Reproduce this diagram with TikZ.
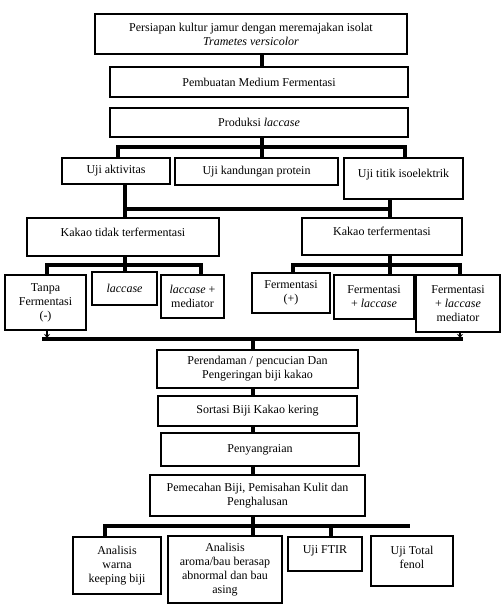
\documentclass[tikz,border=0pt]{standalone}
\usepackage{fontspec}
\setmainfont{Liberation Serif}
\usetikzlibrary{arrows.meta}

\tikzset{
	box/.style={draw, line width=1.2pt, align=center, inner sep=0pt, font=\fontsize{12}{14}\selectfont},
	conn/.style={line width=3.5pt},
}

\begin{document}
\begin{tikzpicture}[x=1pt, y=-1pt]
			\useasboundingbox (0,0) rectangle (502,606);
			
			\node[box, minimum width=312pt, minimum height=40pt] (b1) at (251,34) {Persiapan kultur jamur dengan meremajakan isolat\\\textit{Trametes versicolor}};
			\node[box, minimum width=298pt, minimum height=30pt] (b2) at (259,82) {Pembuatan Medium Fermentasi};
			\node[box, minimum width=298pt, minimum height=29pt] (b3) at (259,122.5) {Produksi \textit{laccase}};
			
			\node[box, minimum width=108pt, minimum height=26pt] (u1) at (116,171) {Uji aktivitas};
			\node[box, minimum width=163pt, minimum height=27pt] (u2) at (256.5,171.5) {Uji kandungan protein};
			\node[box, minimum width=119pt, minimum height=41pt, text depth=11pt] (u3) at (403.5,178.5) {Uji titik isoelektrik};
			
			\node[box, minimum width=192pt, minimum height=38pt, text depth=10pt] (k1) at (123,237) {Kakao tidak terfermentasi};
			\node[box, minimum width=160pt, minimum height=37pt, text depth=11pt] (k2) at (382,236.5) {Kakao terfermentasi};
			
			\node[box, minimum width=81pt, minimum height=55pt] (t1) at (45.5,302.5) {Tanpa\\Fermentasi\\(-)};
			\node[box, minimum width=65pt, minimum height=33pt] (t2) at (124.5,288.5) {\textit{laccase}};
			\node[box, minimum width=63pt, minimum height=43pt] (t3) at (192.5,296.5) {\textit{laccase} +\\mediator};
			\node[box, minimum width=78pt, minimum height=40pt] (f1) at (291,293) {Fermentasi\\(+)};
			\node[box, minimum width=80pt, minimum height=44pt] (f2) at (374,297) {Fermentasi\\+ \textit{laccase}};
			\node[box, minimum width=84pt, minimum height=57pt] (f3) at (458,303.5) {Fermentasi\\+ \textit{laccase}\\mediator};
			
			\node[box, minimum width=201pt, minimum height=38pt] (p1) at (257.5,369) {Perendaman / pencucian Dan\\Pengeringan biji kakao};
			\node[box, minimum width=199pt, minimum height=30pt] (p2) at (257.5,411) {Sortasi Biji Kakao kering};
			\node[box, minimum width=198pt, minimum height=33pt] (p3) at (260,449.5) {Penyangraian};
			\node[box, minimum width=215pt, minimum height=41pt] (p4) at (257.5,495.5) {Pemecahan Biji, Pemisahan Kulit dan\\Penghalusan};
			
			\node[box, minimum width=88pt, minimum height=57pt] (a1) at (117,565.5) {Analisis\\warna\\keeping biji};
			\node[box, minimum width=114pt, minimum height=67pt] (a2) at (225,569.5) {Analisis\\aroma/bau berasap\\abnormal dan bau\\asing};
			\node[box, minimum width=74pt, minimum height=34pt, text depth=8pt] (a3) at (325,554) {Uji FTIR};
			\node[box, minimum width=82pt, minimum height=50pt, text depth=7pt] (a4) at (412,561) {Uji Total\\fenol};
			
			\coordinate (spine) at (262,0);
			\coordinate (bar1l) at (118,147);
			\coordinate (bar1r) at (405,147);
			\coordinate (bar2l) at (125,209);
			\coordinate (bar2r) at (390,209);
			\coordinate (bar3l) at (47,265);
			\coordinate (bar3m) at (201,265);
			\coordinate (bar3n) at (293,265);
			\coordinate (bar3r) at (460,265);
			\coordinate (bar4l) at (47,339);
			\coordinate (bar4r) at (460,339);
			\coordinate (spine2) at (253,0);
			\coordinate (bar5l) at (105,526);
			\coordinate (bar5r) at (410,526);
			\coordinate (ftir) at (331,0);
			
			\draw[conn] (b1.south -| spine) -- (b2.north -| spine);
			\draw[conn] (b3.south -| spine) -- (spine |- bar1l);
			\draw[conn] (u1.north -| bar1l) -- (bar1l) -- (bar1r) -- (u3.north -| bar1r);
			\draw[conn] (spine |- bar1l) -- (u2.north -| spine);
			
			\draw[conn] (u1.south -| bar2l) -- (k1.north -| bar2l);
			\draw[conn] (u3.south -| bar2r) -- (k2.north -| bar2r);
			\draw[conn] (bar2l) -- (bar2r);
			
			\draw[conn] (k1.south -| bar2l) -- (t2.north -| bar2l);
			\draw[conn] (t1.north -| bar3l) -- (bar3l) -- (bar3m) -- (t3.north -| bar3m);
			\draw[conn] (k2.south -| bar2r) -- (f2.north -| bar2r);
			\draw[conn] (f1.north -| bar3n) -- (bar3n) -- (bar3r) -- (f3.north -| bar3r);
			
			\draw[line width=2pt, -{Stealth[length=4pt, width=6pt]}] (t1.south -| bar4l) -- ([yshift=1pt]bar4l);
			\draw[line width=2pt, -{Stealth[length=4pt, width=6pt]}] (f3.south -| bar4r) -- ([yshift=1pt]bar4r);
			\draw[conn] ([xshift=-5pt]bar4l) -- ([xshift=3pt]bar4r);
			\draw[conn] (spine2 |- bar4l) -- (p1.north -| spine2);
			
			\draw[conn] (p1.south -| spine2) -- (p2.north -| spine2);
			\draw[conn] (p2.south -| spine2) -- (p3.north -| spine2);
			\draw[conn] (p3.south -| spine2) -- (p4.north -| spine2);
			\draw[conn] (p4.south -| spine2) -- (a2.north -| spine2);
			\draw[conn] (a1.north -| bar5l) -- (bar5l) -- (bar5r);
			\draw[conn] (ftir |- bar5l) -- (a3.north -| ftir);
\end{tikzpicture}
\end{document}
